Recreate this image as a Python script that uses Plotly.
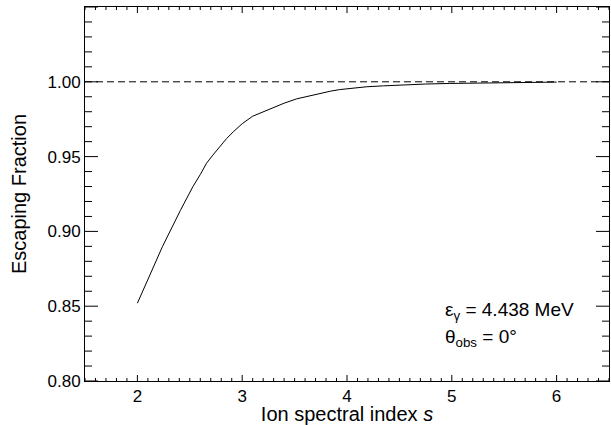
import plotly.graph_objects as go

s_vals = [2.00, 2.10, 2.24, 2.41, 2.53, 2.60, 2.66, 2.72, 2.79, 2.85, 2.92, 3.00, 3.10, 3.20, 3.30,
          3.40, 3.52, 3.63, 3.74, 3.84, 3.93, 4.05, 4.19, 4.35, 4.50, 4.75, 4.98, 5.20, 5.46, 5.75, 6.00]
frac_vals = [0.852, 0.868, 0.890, 0.914, 0.930, 0.938, 0.9456, 0.951, 0.9568, 0.962, 0.9669, 0.972, 0.977, 0.980, 0.9826,
             0.9857, 0.9886, 0.9905, 0.992, 0.9937, 0.9948, 0.9958, 0.9967, 0.9973, 0.9978, 0.9985, 0.9989, 0.9991, 0.9993, 0.9996, 0.9998]
ref_x = [1.5, 6.5]
ref_y = [1.0, 1.0]

x_range = [1.5, 6.5]
y_range = [0.80, 1.05]
x_major = [2, 3, 4, 5, 6]
x_minor = [round(1.5 + 0.1 * i, 2) for i in range(51)]
y_major = [0.80, 0.85, 0.90, 0.95, 1.00, 1.05]
y_minor = [round(0.80 + 0.01 * i, 2) for i in range(26)]

FONT = "Liberation Sans, Arial, Helvetica, sans-serif"

fig = go.Figure()
fig.add_trace(go.Scatter(x=ref_x, y=ref_y, mode="lines",
                         line=dict(color="black", width=1, dash="7px,4px"),
                         showlegend=False, hoverinfo="skip"))
fig.add_trace(go.Scatter(x=s_vals, y=frac_vals, mode="lines",
                         line=dict(color="black", width=1),
                         showlegend=False))

fig.update_xaxes(range=x_range, tickvals=x_major, ticks="", showline=True, linecolor="black", mirror=True,
                 showgrid=False, zeroline=False,
                 tickfont=dict(family=FONT, size=17, color="black"),
                 title=dict(text="Ion spectral index <i>s</i>", font=dict(family=FONT, size=20, color="black"), standoff=8))
fig.update_yaxes(range=y_range, tickvals=y_major[:-1], tickformat=".2f", ticks="", showline=True, linecolor="black",
                 mirror=True, showgrid=False, zeroline=False,
                 tickfont=dict(family=FONT, size=17, color="black"),
                 title=dict(text="Escaping Fraction", font=dict(family=FONT, size=20, color="black"), standoff=15))

tick_line = dict(color="black", width=1)
# x-axis ticks (bottom and top), drawn inward
for xv in x_minor:
    ln = 6 if any(abs(xv - m) < 1e-9 for m in x_major) else 3
    fig.add_shape(type="line", xref="x", yref="y", x0=xv, x1=xv, ysizemode="pixel", yanchor=y_range[0],
                  y0=0, y1=ln, line=tick_line, layer="above")
    fig.add_shape(type="line", xref="x", yref="y", x0=xv, x1=xv, ysizemode="pixel", yanchor=y_range[1],
                  y0=0, y1=-ln, line=tick_line, layer="above")
# y-axis ticks (left and right), drawn inward
for yv in y_minor:
    ln = 13 if any(abs(yv - m) < 1e-9 for m in y_major) else 7
    fig.add_shape(type="line", xref="x", yref="y", y0=yv, y1=yv, xsizemode="pixel", xanchor=x_range[0],
                  x0=0, x1=ln, line=tick_line, layer="above")
    fig.add_shape(type="line", xref="x", yref="y", y0=yv, y1=yv, xsizemode="pixel", xanchor=x_range[1],
                  x0=0, x1=-ln, line=tick_line, layer="above")

fig.add_annotation(x=4.92, y=0.8465, xref="x", yref="y", xanchor="left", yanchor="middle",
                   text="ε<sub>γ</sub> = 4.438 MeV", showarrow=False,
                   font=dict(family=FONT, size=19, color="black"))
fig.add_annotation(x=4.92, y=0.829, xref="x", yref="y", xanchor="left", yanchor="middle",
                   text="θ<sub>obs</sub> = 0°", showarrow=False,
                   font=dict(family=FONT, size=19, color="black"))

fig.update_layout(template="none", width=611, height=425, margin=dict(l=85, r=2, t=7, b=44),
                  paper_bgcolor="white", plot_bgcolor="white",
                  font=dict(family=FONT, color="black"))

fig.write_html("out.html")
